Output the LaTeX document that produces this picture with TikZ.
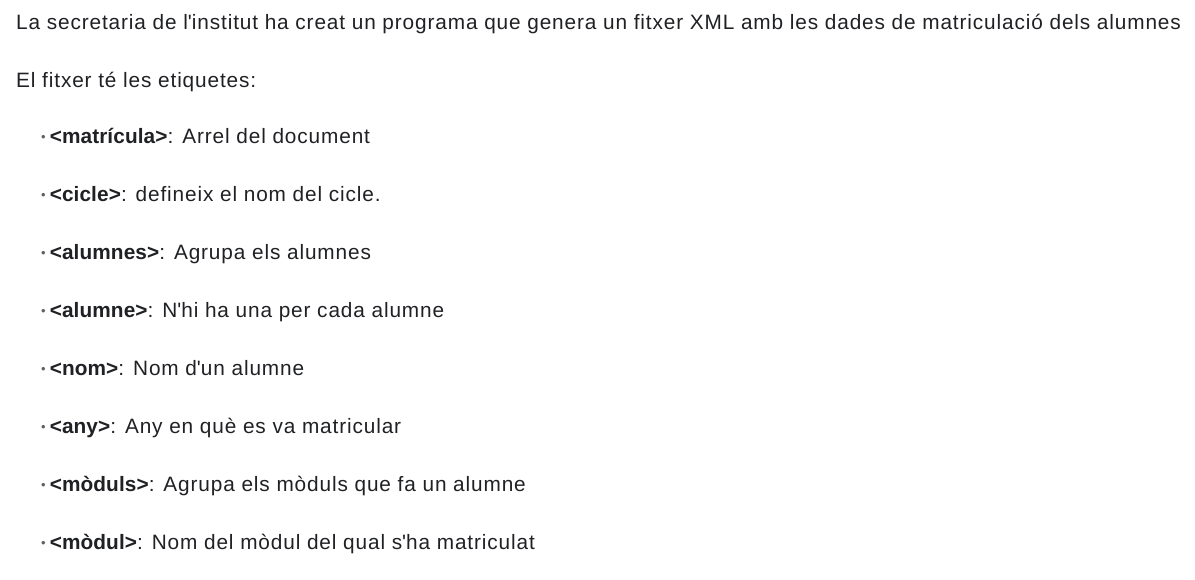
\documentclass[tikz,border=0pt]{standalone}
\usepackage{fontspec}
\setmainfont{Liberation Sans}[LetterSpace=4.2,BoldFeatures={LetterSpace=0.5}]
\definecolor{inktext}{HTML}{202124}
\definecolor{dotgray}{HTML}{5F6368}
\tikzset{line/.style={anchor=base west,inner sep=0pt,text=inktext,font=\fontsize{20.8}{24}\selectfont}}
\newcommand{\blt}{\textcolor{dotgray}{\fontsize{13}{14}\selectfont\raisebox{1.5pt}{•}}\hspace{4pt}}
\newcommand{\ap}{\textquotesingle}
\begin{document}
\begin{tikzpicture}[x=1pt,y=-1pt]
      \useasboundingbox[fill=white] (0,0) rectangle (1195,579);
      \node[line] (intro) at (16,29) {La secretaria de l\ap institut ha creat un programa que genera un fitxer XML amb les dades de matriculació dels alumnes};
      \node[line] (etiq) at (16,87) {El fitxer té les etiquetes:};

      \node[line] (matricula) at (41,143) {\blt\textbf{<matrícula>}: Arrel del document};
      \node[line] (cicle) at (41,201) {\blt\textbf{<cicle>}: defineix el nom del cicle.};
      \node[line] (alumnes) at (41,259) {\blt\textbf{<alumnes>}: Agrupa els alumnes};
      \node[line] (alumne) at (41,317) {\blt\textbf{<alumne>}: N\ap hi ha una per cada alumne};
      \node[line] (nom) at (41,375) {\blt\textbf{<nom>}: Nom d\ap un alumne};
      \node[line] (any) at (41,433) {\blt\textbf{<any>}: Any en què es va matricular};
      \node[line] (moduls) at (41,491) {\blt\textbf{<mòduls>}: Agrupa els mòduls que fa un alumne};
      \node[line] (modul) at (41,549) {\blt\textbf{<mòdul>}: Nom del mòdul del qual s\ap ha matriculat};
    \end{tikzpicture}
\end{document}
